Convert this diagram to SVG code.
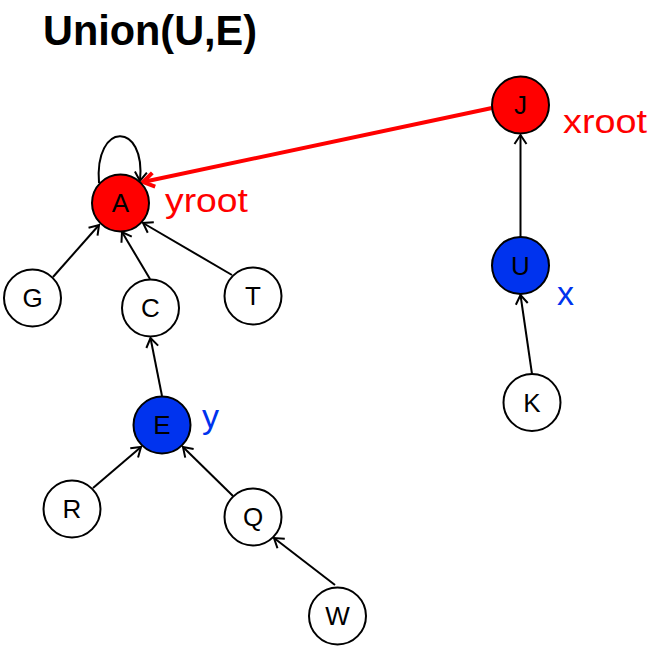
<svg xmlns="http://www.w3.org/2000/svg" width="661" height="659" viewBox="0 0 661 659">
<defs>
<style>
.node circle{stroke:#000;stroke-width:2}
.node text{font-family:"Liberation Sans",Arial,sans-serif;font-size:26px;text-anchor:middle;fill:#000}
.white circle{fill:#fff}
.red circle{fill:#ff0000}
.blue circle{fill:#0033ee}
.edge{fill:none;stroke:#000;stroke-width:2;marker-end:url(#arr)}
.redge{fill:none;stroke:#ff0000;stroke-width:4;marker-end:url(#rarr)}
.lbl{font-family:"Liberation Sans",Arial,sans-serif;font-size:34px}
</style>
<marker id="arr" viewBox="-12 -8 14 16" markerWidth="14" markerHeight="16" refX="0" refY="0" orient="auto" markerUnits="userSpaceOnUse">
<path d="M-9,-6 L0,0 L-9,6" fill="none" stroke="#000" stroke-width="2"/>
</marker>
<marker id="rarr" viewBox="-14 -9 16 18" markerWidth="16" markerHeight="18" refX="0" refY="0" orient="auto" markerUnits="userSpaceOnUse">
<path d="M-11,-7 L0,0 L-11,7" fill="none" stroke="#ff0000" stroke-width="4"/>
</marker>
</defs>
<rect width="661" height="659" fill="#fff"/>
<text x="43" y="45" font-family="'Liberation Sans',Arial,sans-serif" font-size="43" font-weight="bold" textLength="214" lengthAdjust="spacingAndGlyphs">Union(U,E)</text>
<g id="connectors">
<path class="edge" d="M99,183 C94,121 146,121 140,181"/>
<line class="redge" x1="492" y1="108" x2="143" y2="182"/>
<line class="edge" x1="520.5" y1="237" x2="520.5" y2="135"/>
<line class="edge" x1="532" y1="374" x2="520.5" y2="295"/>
<line class="edge" x1="53" y1="277" x2="99" y2="225"/>
<line class="edge" x1="150" y1="279" x2="122" y2="232"/>
<line class="edge" x1="232" y1="275" x2="143" y2="223"/>
<line class="edge" x1="162" y1="396" x2="150.5" y2="338"/>
<line class="edge" x1="93" y1="488" x2="141" y2="447"/>
<line class="edge" x1="233" y1="496" x2="183" y2="447"/>
<line class="edge" x1="335" y1="585" x2="274" y2="538"/>
</g>
<g id="node-A" class="node red"><circle cx="120.5" cy="203" r="28.5"/><text x="120.5" y="212.4">A</text></g>
<g id="node-J" class="node red"><circle cx="520.5" cy="105" r="28.5"/><text x="520.5" y="114.4">J</text></g>
<g id="node-U" class="node blue"><circle cx="520.5" cy="265.5" r="28.5"/><text x="520.5" y="274.9">U</text></g>
<g id="node-K" class="node white"><circle cx="532" cy="402.5" r="28.5"/><text x="532" y="411.9">K</text></g>
<g id="node-G" class="node white"><circle cx="32.5" cy="298" r="28.5"/><text x="32.5" y="307.4">G</text></g>
<g id="node-C" class="node white"><circle cx="150.5" cy="308" r="28.5"/><text x="150.5" y="317.4">C</text></g>
<g id="node-T" class="node white"><circle cx="253" cy="296" r="28.5"/><text x="253" y="305.4">T</text></g>
<g id="node-E" class="node blue"><circle cx="162" cy="425" r="28.5"/><text x="162" y="434.4">E</text></g>
<g id="node-R" class="node white"><circle cx="72" cy="509" r="28.5"/><text x="72" y="518.4">R</text></g>
<g id="node-Q" class="node white"><circle cx="253" cy="517" r="28.5"/><text x="253" y="526.4">Q</text></g>
<g id="node-W" class="node white"><circle cx="337.5" cy="616" r="28.5"/><text x="337.5" y="625.4">W</text></g>
<text class="lbl" x="165" y="212" fill="#ff0000" textLength="83" lengthAdjust="spacingAndGlyphs">yroot</text>
<text class="lbl" x="563" y="133" fill="#ff0000" textLength="84" lengthAdjust="spacingAndGlyphs">xroot</text>
<text class="lbl" x="557" y="305" fill="#0033ee">x</text>
<text class="lbl" x="202" y="428" fill="#0033ee">y</text>
</svg>
